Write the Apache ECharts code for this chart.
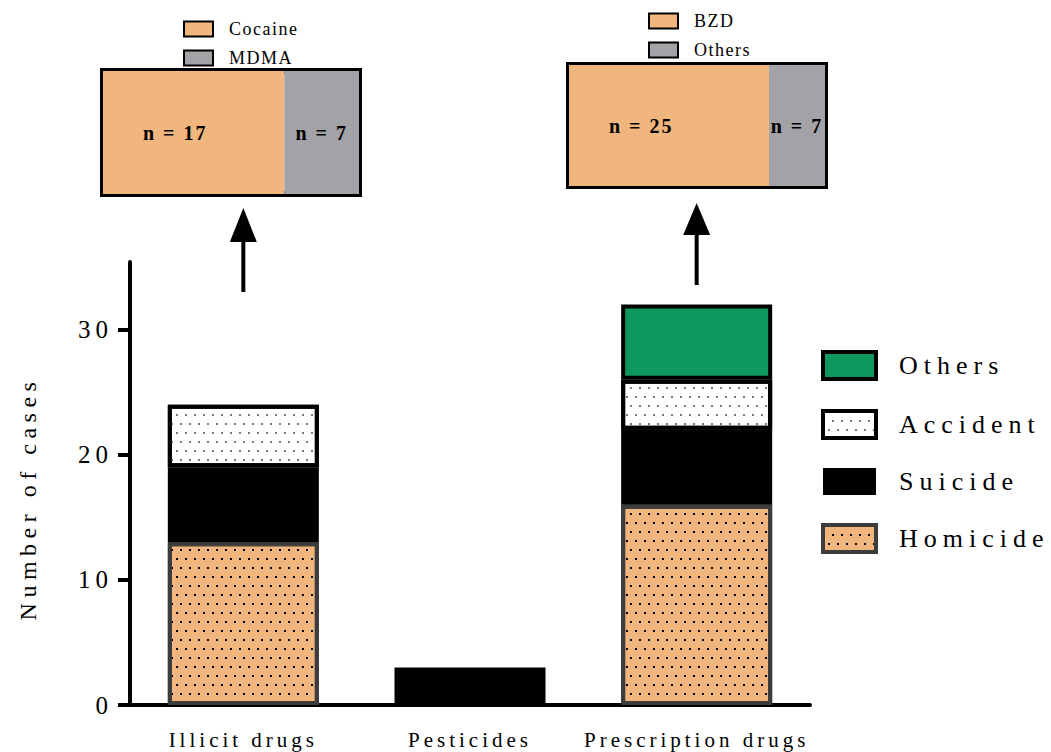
<!DOCTYPE html>
<html>
<head>
<meta charset="utf-8">
<title>Number of cases</title>
<script src="https://cdn.jsdelivr.net/npm/echarts@6/dist/echarts.min.js"></script>
<style>
  html, body { margin: 0; padding: 0; background: #fff; }
  #chart { width: 1051px; height: 752px; }
</style>
</head>
<body>
<div id="chart"></div>
<script>
// main stacked bars
const categories = ['Illicit drugs', 'Pesticides', 'Prescription drugs'];
const homicide = [13, null, 16];
const suicide = [6, 3, 6];
const accident = [5, null, 4];
const others = [null, null, 6];
const yTicks = [0, 10, 20, 30];

// breakdown boxes above the bars
const illicitNames = ['Cocaine', 'MDMA'];
const illicitCounts = [17, 7];
const prescriptionNames = ['BZD', 'Others'];
const prescriptionCounts = [25, 7];

const FONT = 'Liberation Serif';
const ORANGE = '#F0B67D';
const GREY = '#A3A2A7';
const GREEN = '#0E9860';

// letter spacing per font size (svg text is spaced out like the original)
const SPACING = { 26: 6, 25: 5, 24: 5.5, 21: 4, 18: 1.5, 20: 2 };

const dots = (color) => ({
  symbol: 'rect',
  symbolSize: 1,
  color: color,
  dashArrayX: [[2, 7], [0, 5, 2, 2]],
  dashArrayY: [2, 7],
  rotation: 0
});

const chart = echarts.init(document.getElementById('chart'), null, { renderer: 'svg' });

function insetSeries(names, counts, idx) {
  return names.map((name, i) => ({
    name: name,
    type: 'bar',
    stack: 'inset' + idx,
    xAxisIndex: idx,
    yAxisIndex: idx,
    barWidth: '100%',
    data: [counts[i]],
    itemStyle: { color: i === 0 ? ORANGE : GREY },
    label: {
      show: true,
      position: i === 0 ? 'insideLeft' : 'inside',
      distance: 40,
      formatter: 'n = {c}',
      fontFamily: FONT,
      fontWeight: 'bold',
      fontSize: 20,
      color: '#000'
    }
  }));
}

function insetLegend(names, left, top) {
  return {
    orient: 'vertical',
    left: left,
    top: top,
    padding: 0,
    icon: 'rect',
    itemWidth: 29,
    itemHeight: 15,
    itemGap: 11,
    selectedMode: false,
    textStyle: { fontFamily: FONT, fontSize: 18, color: '#000', lineHeight: 15, padding: [0, 0, 0, 11] },
    data: names.map((n, i) => ({
      name: n,
      itemStyle: { color: i === 0 ? ORANGE : GREY, borderColor: '#000', borderWidth: 2, decal: 'none' }
    }))
  };
}

const option = {
  animation: false,
  backgroundColor: '#fff',
  grid: [
    { left: 130, right: 241, top: 262, bottom: 47 },
    { left: 103, top: 71, width: 256, height: 123, show: true, borderColor: '#000', borderWidth: 6, backgroundColor: 'transparent' },
    { left: 569, top: 65, width: 256, height: 121, show: true, borderColor: '#000', borderWidth: 6, backgroundColor: 'transparent' }
  ],
  legend: [
    {
      orient: 'vertical',
      left: 821,
      top: 350,
      padding: 0,
      icon: 'rect',
      itemWidth: 53,
      itemHeight: 27,
      itemGap: 28,
      selectedMode: false,
      textStyle: { fontFamily: FONT, fontSize: 26, color: '#000', lineHeight: 27, padding: [0, 0, 0, 18] },
      data: [
        { name: 'Others', itemStyle: { color: GREEN, borderColor: '#000', borderWidth: 4 } },
        { name: 'Accident', itemStyle: { color: '#fff', borderColor: '#000', borderWidth: 4 } },
        { name: 'Suicide', itemStyle: { color: '#000', borderWidth: 0 } },
        { name: 'Homicide', itemStyle: { color: ORANGE, borderColor: '#3c3c3c', borderWidth: 4 } }
      ]
    },
    insetLegend(illicitNames, 183, 20),
    insetLegend(prescriptionNames, 648, 12)
  ],
  xAxis: [
    {
      type: 'category',
      gridIndex: 0,
      data: categories,
      axisLine: { lineStyle: { color: '#000', width: 4 } },
      axisTick: { alignWithLabel: true, length: 11, lineStyle: { color: '#000', width: 4 } },
      axisLabel: { fontFamily: FONT, fontSize: 21, color: '#000', margin: 24 }
    },
    { type: 'value', gridIndex: 1, min: 0, max: illicitCounts[0] + illicitCounts[1], show: false },
    { type: 'value', gridIndex: 2, min: 0, max: prescriptionCounts[0] + prescriptionCounts[1], show: false }
  ],
  yAxis: [
    {
      type: 'value',
      gridIndex: 0,
      min: 0,
      max: 35.4,
      name: 'Number of cases',
      nameLocation: 'middle',
      nameGap: 90,
      nameTextStyle: { fontFamily: FONT, fontSize: 24, color: '#000', padding: [0, 30, 0, 0] },
      splitLine: { show: false },
      axisLine: { show: true, lineStyle: { color: '#000', width: 4 } },
      axisTick: { show: true, length: 12, customValues: yTicks, lineStyle: { color: '#000', width: 4 } },
      axisLabel: { customValues: yTicks, fontFamily: FONT, fontSize: 25, color: '#000', margin: 17 }
    },
    { type: 'category', gridIndex: 1, data: ['n'], show: false },
    { type: 'category', gridIndex: 2, data: ['n'], show: false }
  ],
  series: [
    {
      name: 'Homicide', type: 'bar', stack: 'main', barWidth: 151, data: homicide,
      itemStyle: { color: ORANGE, borderColor: '#3c3c3c', borderWidth: 4, decal: dots('#000') }
    },
    {
      name: 'Suicide', type: 'bar', stack: 'main', barWidth: 151, data: suicide,
      itemStyle: { color: '#000', borderColor: '#000', borderWidth: 4 }
    },
    {
      name: 'Accident', type: 'bar', stack: 'main', barWidth: 151, data: accident,
      itemStyle: { color: '#fff', borderColor: '#000', borderWidth: 4, decal: dots('#7a7a7a') }
    },
    {
      name: 'Others', type: 'bar', stack: 'main', barWidth: 151, data: others,
      itemStyle: { color: GREEN, borderColor: '#000', borderWidth: 4 }
    }
  ].concat(insetSeries(illicitNames, illicitCounts, 1), insetSeries(prescriptionNames, prescriptionCounts, 2))
};

chart.setOption(option);

// arrows from the bars up to their breakdown boxes
const arrows = [
  { category: categories[0], tip: 208, head: 34, end: 292 },
  { category: categories[2], tip: 203, head: 32, end: 285 }
];
chart.setOption({
  graphic: arrows.map((a) => {
    const x = chart.convertToPixel({ xAxisIndex: 0 }, a.category);
    return {
      type: 'group',
      children: [
        { type: 'line', shape: { x1: x, y1: a.tip + a.head - 2, x2: x, y2: a.end }, style: { stroke: '#000', lineWidth: 4 } },
        { type: 'polygon', shape: { points: [[x, a.tip], [x - 13.5, a.tip + a.head], [x + 13.5, a.tip + a.head]] }, style: { fill: '#000' } }
      ]
    };
  })
});

function spaceText() {
  document.querySelectorAll('#chart text').forEach((t) => {
    const fs = Math.round(parseFloat(getComputedStyle(t).fontSize));
    if (SPACING[fs] != null) t.style.letterSpacing = SPACING[fs] + 'px';
  });
}
spaceText();
chart.on('finished', spaceText);
</script>
</body>
</html>
